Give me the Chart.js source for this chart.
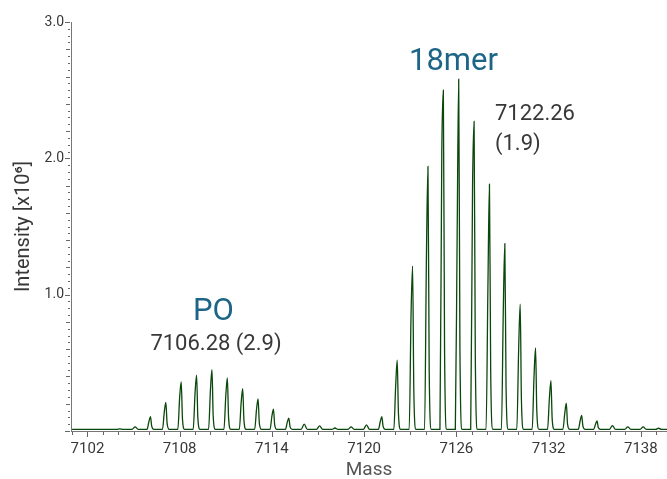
<!DOCTYPE html>
<html>
<head>
<meta charset="utf-8">
<script src="https://cdn.jsdelivr.net/npm/chart.js@4.4.1/dist/chart.umd.min.js"></script>
<style>
  html, body { margin: 0; padding: 0; background: #ffffff; }
  #wrap { width: 667px; height: 479px; }
</style>
</head>
<body>
<div id="wrap"><canvas id="c" width="667" height="479"></canvas></div>
<script>
// ---------- DATA ----------
// profile points: [mass, intensity x10^6]
const leadIn = [
  [7101.0, 0.012], [7103.9, 0.012], [7104.1, 0.016], [7104.3, 0.012],
  [7104.9, 0.012], [7105.1, 0.030], [7105.3, 0.012]
];
const p0Cluster = [
  [7105.88, 0.012], [7106.0, 0.07], [7106.1, 0.105], [7106.18, 0.035], [7106.32, 0.012],
  [7106.88, 0.012], [7107.0, 0.14], [7107.1, 0.21], [7107.18, 0.06], [7107.32, 0.012],
  [7107.88, 0.012], [7108.0, 0.25], [7108.1, 0.36], [7108.18, 0.09], [7108.32, 0.012],
  [7108.88, 0.012], [7109.0, 0.28], [7109.1, 0.41], [7109.18, 0.10], [7109.32, 0.012],
  [7109.88, 0.012], [7110.0, 0.30], [7110.1, 0.45], [7110.18, 0.11], [7110.32, 0.012],
  [7110.88, 0.012], [7111.0, 0.26], [7111.1, 0.39], [7111.18, 0.10], [7111.32, 0.012],
  [7111.88, 0.012], [7112.0, 0.21], [7112.1, 0.31], [7112.18, 0.08], [7112.32, 0.012],
  [7112.88, 0.012], [7113.0, 0.16], [7113.1, 0.235], [7113.18, 0.06], [7113.32, 0.012],
  [7113.88, 0.012], [7114.0, 0.11], [7114.1, 0.16], [7114.18, 0.045], [7114.32, 0.012],
  [7114.88, 0.012], [7115.0, 0.065], [7115.1, 0.095], [7115.18, 0.03], [7115.32, 0.012]
];
const gapPeaks = [
  [7115.9, 0.012], [7116.1, 0.050], [7116.3, 0.012],
  [7116.9, 0.012], [7117.1, 0.038], [7117.3, 0.012],
  [7117.9, 0.012], [7118.1, 0.022], [7118.3, 0.012],
  [7118.95, 0.012], [7119.15, 0.030], [7119.35, 0.012],
  [7119.95, 0.012], [7120.15, 0.045], [7120.35, 0.012]
];
const mer18Cluster = [
  [7120.93, 0.012], [7121.05, 0.07], [7121.15, 0.105], [7121.23, 0.035], [7121.37, 0.012],
  [7121.93, 0.012], [7122.05, 0.33], [7122.15, 0.52], [7122.23, 0.13], [7122.37, 0.012],
  [7122.93, 0.012], [7123.05, 0.85], [7123.15, 1.21], [7123.23, 0.30], [7123.37, 0.012],
  [7123.93, 0.012], [7124.05, 1.27], [7124.15, 1.94], [7124.23, 0.45], [7124.37, 0.012],
  [7124.93, 0.012], [7125.05, 2.04], [7125.15, 2.50], [7125.23, 0.60], [7125.37, 0.012],
  [7125.93, 0.012], [7126.05, 1.45], [7126.15, 2.58], [7126.23, 0.60], [7126.37, 0.012],
  [7126.93, 0.012], [7127.05, 1.78], [7127.15, 2.27], [7127.23, 0.55], [7127.37, 0.012],
  [7127.93, 0.012], [7128.05, 1.05], [7128.15, 1.81], [7128.23, 0.45], [7128.37, 0.012],
  [7128.93, 0.012], [7129.05, 0.88], [7129.15, 1.375], [7129.23, 0.33], [7129.37, 0.012],
  [7129.93, 0.012], [7130.05, 0.60], [7130.15, 0.93], [7130.23, 0.23], [7130.37, 0.012],
  [7130.93, 0.012], [7131.05, 0.40], [7131.15, 0.61], [7131.23, 0.15], [7131.37, 0.012],
  [7131.93, 0.012], [7132.05, 0.24], [7132.15, 0.37], [7132.23, 0.09], [7132.37, 0.012],
  [7132.93, 0.012], [7133.05, 0.13], [7133.15, 0.205], [7133.23, 0.05], [7133.37, 0.012],
  [7133.93, 0.012], [7134.05, 0.075], [7134.15, 0.115], [7134.23, 0.035], [7134.37, 0.012],
  [7134.93, 0.012], [7135.05, 0.05], [7135.15, 0.075], [7135.23, 0.025], [7135.37, 0.012]
];
const tailPeaks = [
  [7135.95, 0.012], [7136.15, 0.040], [7136.35, 0.012],
  [7136.95, 0.012], [7137.15, 0.030], [7137.35, 0.012],
  [7137.95, 0.012], [7138.15, 0.030], [7138.35, 0.012],
  [7138.95, 0.012], [7139.15, 0.020], [7139.35, 0.012],
  [7140.0, 0.012]
];
const xLabelValues = [7102, 7108, 7114, 7120, 7126, 7132, 7138];
const yLabelValues = [1, 2, 3];
const yTickLabels = ['1.0', '2.0', '3.0'];
const merTitle = '18mer';
const merMass = ['7122.26', '(1.9)'];
const poTitle = 'PO';
const poMass = '7106.28 (2.9)';
const xTitle = 'Mass';
const yTitle = 'Intensity [x10\u2076]';

// ---------- BUILD ----------
const profile = [].concat(leadIn, p0Cluster, gapPeaks, mer18Cluster, tailPeaks)
  .map(p => ({ x: p[0], y: p[1] }));

const FONT = 'Roboto';
const BLUE = '#1d6586';
const TEXT = '#383838';
const AXIS = '#777777';

const X_MIN = 7100.93, X_MAX = 7139.7;

const tickPlugin = {
  id: 'customTicks',
  afterDraw(chart) {
    const { ctx, scales: { x, y } } = chart;
    ctx.save();
    ctx.strokeStyle = '#666';
    ctx.lineWidth = 1;
    ctx.beginPath();
    for (let v = 7101; v <= 7139; v++) {
      const px = Math.round(x.getPixelForValue(v)) + 0.5;
      const len = xLabelValues.includes(v) ? 5 : 3;
      ctx.moveTo(px, x.top + 1);
      ctx.lineTo(px, x.top + 1 + len);
    }
    for (let k = 0; k <= 60; k++) {
      const py = Math.round(y.getPixelForValue(k * 0.05)) + 0.5;
      const len = (k % 20 === 0) ? 5 : (k % 4 === 0 ? 4 : 2);
      ctx.moveTo(y.right - 1, py);
      ctx.lineTo(y.right - 1 - len, py);
    }
    ctx.stroke();
    ctx.restore();
  }
};

const annotPlugin = {
  id: 'annot',
  afterDatasetsDraw(chart) {
    const { ctx, scales: { x, y } } = chart;
    ctx.save();
    ctx.textBaseline = 'middle';
    ctx.fillStyle = BLUE;
    ctx.font = '31px ' + FONT;
    ctx.textAlign = 'center';
    ctx.fillText(merTitle, x.getPixelForValue(7125.81), y.getPixelForValue(2.707));
    ctx.fillText(poTitle, x.getPixelForValue(7110.2), y.getPixelForValue(0.873));
    ctx.fillStyle = TEXT;
    ctx.font = '22px ' + FONT;
    ctx.fillText(poMass, x.getPixelForValue(7110.36), y.getPixelForValue(0.631));
    ctx.textAlign = 'left';
    ctx.fillText(merMass[0], x.getPixelForValue(7128.51), y.getPixelForValue(2.318));
    ctx.fillText(merMass[1], x.getPixelForValue(7128.51), y.getPixelForValue(2.098));
    ctx.restore();
  }
};

new Chart(document.getElementById('c'), {
  type: 'line',
  data: {
    datasets: [{
      data: profile,
      borderColor: '#0a470a',
      borderWidth: 1.3,
      pointRadius: 0,
      fill: false,
      cubicInterpolationMode: 'monotone'
    }]
  },
  options: {
    responsive: false,
    animation: false,
    devicePixelRatio: 1,
    layout: { padding: { top: 22, right: 0, left: 0, bottom: 0 } },
    plugins: { legend: { display: false }, tooltip: { enabled: false } },
    scales: {
      x: {
        type: 'linear',
        min: X_MIN,
        max: X_MAX,
        afterFit(s) { s.height = 48; },
        afterBuildTicks(s) { s.ticks = xLabelValues.map(v => ({ value: v })); },
        grid: { display: true, drawOnChartArea: false, drawTicks: false },
        border: { display: true, color: AXIS, width: 1 },
        ticks: {
          autoSkip: false,
          maxRotation: 0,
          padding: 9,
          color: TEXT,
          font: { family: FONT, size: 15 },
          callback: v => String(v)
        },
        title: {
          display: true,
          text: xTitle,
          color: '#555',
          font: { family: FONT, size: 19, lineHeight: 1 },
          padding: { top: 0, bottom: -1 }
        }
      },
      y: {
        type: 'linear',
        min: 0,
        max: 3,
        afterFit(s) { s.width = 71; },
        afterBuildTicks(s) { s.ticks = yLabelValues.map(v => ({ value: v })); },
        grid: { display: true, drawOnChartArea: false, drawTicks: false },
        border: { display: true, color: AXIS, width: 1 },
        ticks: {
          autoSkip: false,
          padding: 7,
          color: TEXT,
          font: { family: FONT, size: 14 },
          callback: (v) => { const i = yLabelValues.indexOf(v); return i >= 0 ? yTickLabels[i] : ''; }
        },
        title: {
          display: true,
          text: yTitle,
          color: TEXT,
          font: { family: FONT, size: 20, lineHeight: 1.2 },
          padding: { top: 12, bottom: 0 }
        }
      }
    }
  },
  plugins: [tickPlugin, annotPlugin]
});
</script>
</body>
</html>
